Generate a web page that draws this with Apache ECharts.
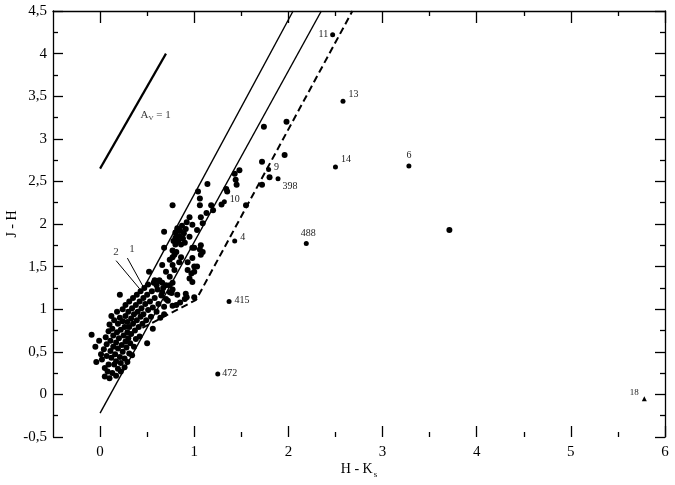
<!DOCTYPE html>
<html>
<head>
<meta charset="utf-8">
<script src="https://cdn.jsdelivr.net/npm/echarts@6/dist/echarts.min.js"></script>
<style>html,body{margin:0;padding:0;background:#fff}#c{width:675px;height:485px}</style>
</head>
<body>
<div id="c"></div>
<script>
// ---- data (H-Ks, J-H) ----
const xTickValues = [0, 1, 2, 3, 4, 5, 6];
const xMinorTickValues = [0.5, 1.5, 2.5, 3.5, 4.5, 5.5];

const lowerCluster = [
[-0.09,0.70],[-0.05,0.56],[-0.04,0.38],[-0.01,0.63],[0.01,0.47],[0.02,0.41],[0.04,0.53],[0.05,0.31],[0.05,0.21],[0.06,0.67],
[0.07,0.59],[0.08,0.27],[0.07,0.45],[0.09,0.35],[0.09,0.74],[0.11,0.51],[0.10,0.19],[0.11,0.63],[0.10,0.82],[0.13,0.25],
[0.12,0.43],[0.12,0.92],[0.14,0.56],[0.14,0.69],[0.15,0.35],[0.13,0.77],[0.16,0.47],[0.15,0.87],[0.17,0.22],[0.17,0.61],
[0.18,0.73],[0.17,0.39],[0.18,0.97],[0.19,0.30],[0.19,0.54],[0.19,0.83],[0.20,0.66],[0.21,0.90],[0.21,0.44],[0.22,0.76],
[0.22,0.27],[0.22,0.37],[0.23,0.58],[0.21,1.17],[0.24,0.86],[0.24,0.50],[0.25,0.69],[0.24,1.00],[0.26,0.32],[0.26,0.79],
[0.26,0.42],[0.27,0.62],[0.27,0.92],[0.27,1.05],[0.28,0.55],[0.29,0.73],[0.29,0.85],[0.29,0.38],[0.30,0.66],[0.30,0.97],
[0.31,0.48],[0.31,0.79],[0.31,1.09],[0.32,0.60],[0.33,0.89],[0.33,0.71],[0.34,1.01],[0.34,0.46],[0.35,0.83],[0.35,1.13],
[0.36,0.94],[0.36,0.56],[0.37,0.75],[0.38,1.05],[0.38,0.65],[0.39,0.87],[0.39,1.17],[0.40,0.97],[0.41,0.79],[0.42,1.09],
[0.42,0.68],[0.43,0.91],[0.43,1.21],[0.44,1.01],[0.45,0.83],[0.46,1.13],[0.46,0.94],[0.47,1.25],[0.48,1.06],[0.49,0.87],
[0.50,1.17],[0.51,0.99],[0.51,1.29],[0.50,0.60],[0.53,1.09],[0.54,0.91],[0.55,1.21],[0.56,1.02],[0.57,1.31],[0.56,0.77],
[0.58,1.13],[0.60,0.97],[0.61,1.23],[0.62,1.06],[0.63,1.33],[0.64,0.90],[0.65,1.16],[0.67,1.25],[0.68,1.03],[0.68,0.94],
[0.70,1.12],[0.72,1.10],[0.74,1.20],[0.77,1.04],[0.81,1.05],[0.82,1.17],[0.85,1.08],[0.90,1.12],[0.91,1.18],[1.00,1.14]
];

const middleCluster = [
[0.52,1.44],[0.58,1.34],[0.60,1.28],[0.63,1.34],[0.66,1.52],[0.66,1.31],[0.66,1.20],[0.68,1.72],[0.70,1.44],[0.70,1.28],
[0.74,1.58],[0.74,1.38],[0.74,1.28],[0.76,1.19],[0.77,1.61],[0.77,1.52],[0.77,1.31],[0.77,1.23],[0.77,1.69],[0.79,1.46],
[0.79,1.64],[0.81,1.67],[0.84,1.55],[0.86,1.61],[0.92,1.14],[0.93,1.46],[0.93,1.55],[0.95,1.36],[0.97,1.42],[0.98,1.60],
[0.98,1.32],[0.98,1.72],[1.00,1.50],[1.00,1.44],[1.00,1.72],[1.03,1.50],[1.06,1.70],[1.07,1.64],[1.07,1.75],[1.09,1.67],
[0.78,1.80],[0.80,1.76],[0.80,1.84],[0.80,1.90],[0.82,1.95],[0.83,1.80],[0.84,1.86],[0.85,1.92],[0.86,1.76],[0.87,1.98],
[0.88,1.83],[0.89,1.89],[0.90,1.78],[0.91,1.94],[0.95,1.85],[0.92,2.02],[0.95,2.08],[0.98,1.99],[1.03,1.93],[1.07,2.08],
[1.09,2.01],[1.13,2.13],[1.20,2.16],[1.06,2.22],[1.18,2.22],[1.06,2.30],[0.77,2.22],[0.68,1.91],[1.29,2.23],
[1.04,2.38],[1.35,2.38],[1.14,2.47],[1.45,2.46]
];

const upperCluster = [
[1.74,3.14],[1.98,3.20],[1.96,2.81],[1.72,2.73],[1.80,2.55],[1.72,2.46],[1.48,2.63],[1.43,2.59],[1.44,2.52],[1.34,2.41],
[1.55,2.22],[3.71,1.93]
];

const labelNames = ['11','13','14','6','9','398','10','4','488','415','472'];
const labelX     = [2.47, 2.58, 2.50, 3.28, 1.79, 1.89, 1.32, 1.43, 2.19, 1.37, 1.25];
const labelY     = [4.22, 3.44, 2.67, 2.68, 2.64, 2.53, 2.26, 1.80, 1.77, 1.09, 0.24];

const triangleName = ['18'];
const triangleX = [5.78];
const triangleY = [-0.05];

// lines
const reddeningVector = [[0.00,2.65],[0.70,4.00]];
const bandLeft  = [[0.45,1.22],[2.05,4.50]];
const bandRight = [[0.00,-0.22],[2.35,4.50]];
const cttsLocus = [[0.45,0.78],[1.02,1.11],[2.68,4.50]];
const pointer2  = [[0.17,1.57],[0.42,1.24]];
const pointer1  = [[0.29,1.60],[0.46,1.26]];

// text annotations
const annotText = ['Av', '2', '1'];
const annotX = [0.59, 0.17, 0.34];
const annotY = [3.28, 1.67, 1.70];

// ---- chart ----
const FONT = 'Liberation Serif';
const chart = echarts.init(document.getElementById('c'), null, {renderer: 'canvas'});

const labelStyle = {
  '11':  {position: 'left', distance: 2, offset: [0, 0]},
  '13':  {position: 'right', distance: 3, offset: [0, -7]},
  '14':  {position: 'right', distance: 3, offset: [0, -8]},
  '6':   {position: 'top', distance: 3, offset: [0, 0]},
  '9':   {position: 'right', distance: 3, offset: [0, -2]},
  '398': {position: 'right', distance: 2, offset: [0, 8]},
  '10':  {position: 'right', distance: 3, offset: [0, -2]},
  '4':   {position: 'right', distance: 3, offset: [0, -4]},
  '488': {position: 'top', distance: 3, offset: [2, 0]},
  '415': {position: 'right', distance: 3, offset: [0, -1]},
  '472': {position: 'right', distance: 2, offset: [0, -1]},
  '18':  {position: 'left', distance: 3, offset: [0, -6]}
};

function labelled(names, xs, ys) {
  return names.map((n, i) => ({
    value: [xs[i], ys[i]],
    name: n,
    label: Object.assign({show: true, formatter: n}, labelStyle[n])
  }));
}

const lineSeries = (data, width, type) => ({
  type: 'line', data: data, symbol: 'none', showSymbol: false,
  lineStyle: {color: '#000', width: width, type: type || 'solid'},
  silent: true, z: 3
});

const dotSeries = (data) => ({
  type: 'scatter', data: data, symbol: 'circle', symbolSize: 6,
  itemStyle: {color: '#000', opacity: 1}, silent: true, z: 4
});

const yFmt = v => String(v).replace('.', ',');

const option = {
  animation: false,
  backgroundColor: '#fff',
  grid: [
    {left: 53, right: 10, top: 11, bottom: 48, outerBoundsMode: 'none', containLabel: false},
    {left: 53, right: 10, top: 11, bottom: 48, outerBoundsMode: 'none', containLabel: false}
  ],
  xAxis: [
    {
      gridIndex: 0, type: 'value', position: 'bottom', min: -0.5, max: 6,
      axisLine: {show: false, onZero: false},
      axisTick: {show: true, inside: true, length: 11, customValues: xTickValues, lineStyle: {color: '#000', width: 1.3}},
      axisLabel: {customValues: xTickValues, margin: 8, fontFamily: FONT, fontSize: 15, color: '#000'},
      splitLine: {show: false},
      name: '{a|H - K}{s|s}', nameLocation: 'middle', nameGap: 23, nameMoveOverlap: false,
      nameTextStyle: {fontFamily: FONT, color: '#000',
        rich: {a: {fontFamily: FONT, fontSize: 14, color: '#000'}, s: {fontFamily: FONT, fontSize: 9, color: '#000', verticalAlign: 'bottom', padding: [10, 0, 0, 1]}}}
    },
    {
      gridIndex: 0, type: 'value', position: 'top', min: -0.5, max: 6,
      axisLine: {show: true, onZero: false, lineStyle: {color: '#000', width: 1.3}},
      axisTick: {show: true, inside: true, length: 12, customValues: xTickValues, lineStyle: {color: '#000', width: 1.3}},
      axisLabel: {show: false}, splitLine: {show: false}
    },
    {
      gridIndex: 1, type: 'value', position: 'bottom', min: -0.5, max: 6,
      axisLine: {show: false, onZero: false},
      axisTick: {show: true, inside: true, length: 5, customValues: xMinorTickValues, lineStyle: {color: '#000', width: 1.3}},
      axisLabel: {show: false}, splitLine: {show: false}
    },
    {
      gridIndex: 1, type: 'value', position: 'top', min: -0.5, max: 6,
      axisLine: {show: false, onZero: false},
      axisTick: {show: true, inside: true, length: 5, customValues: xMinorTickValues, lineStyle: {color: '#000', width: 1.3}},
      axisLabel: {show: false}, splitLine: {show: false}
    }
  ],
  yAxis: [
    {
      gridIndex: 0, type: 'value', position: 'left', min: -0.5, max: 4.5, interval: 0.5,
      axisLine: {show: true, onZero: false, lineStyle: {color: '#000', width: 1.3}},
      axisTick: {show: true, inside: true, length: 10, lineStyle: {color: '#000', width: 1.3}},
      minorTick: {show: true, splitNumber: 2, length: 5, lineStyle: {color: '#000', width: 1.3}},
      axisLabel: {formatter: yFmt, margin: 6, fontFamily: FONT, fontSize: 15, color: '#000', showMinLabel: true, showMaxLabel: true},
      splitLine: {show: false},
      name: 'J - H', nameLocation: 'middle', nameGap: 34, nameRotate: 90, nameMoveOverlap: false,
      nameTextStyle: {fontFamily: FONT, fontSize: 14, color: '#000'}
    },
    {
      gridIndex: 0, type: 'value', position: 'right', min: -0.5, max: 4.5, interval: 0.5,
      axisLine: {show: true, onZero: false, lineStyle: {color: '#000', width: 1.3}},
      axisTick: {show: true, inside: true, length: 10, lineStyle: {color: '#000', width: 1.3}},
      minorTick: {show: true, splitNumber: 2, length: 5, lineStyle: {color: '#000', width: 1.3}},
      axisLabel: {show: false}, splitLine: {show: false}
    },
    {gridIndex: 1, type: 'value', show: false, min: -0.5, max: 4.5}
  ],
  series: [
    lineSeries(reddeningVector, 2.2),
    lineSeries(bandLeft, 1.4),
    lineSeries(bandRight, 1.4),
    lineSeries(cttsLocus, 2, [7, 4]),
    lineSeries(pointer2, 1),
    lineSeries(pointer1, 1),
    dotSeries(lowerCluster),
    dotSeries(middleCluster),
    dotSeries(upperCluster),
    {
      type: 'scatter', symbol: 'circle', symbolSize: 5, itemStyle: {color: '#000', opacity: 1}, silent: true, z: 5,
      data: labelled(labelNames, labelX, labelY),
      label: {fontFamily: FONT, fontSize: 10, color: '#222'}
    },
    {
      type: 'scatter', symbol: 'triangle', symbolSize: 5, itemStyle: {color: '#000', opacity: 1}, silent: true, z: 5,
      data: labelled(triangleName, triangleX, triangleY),
      label: {fontFamily: FONT, fontSize: 9, color: '#222'}
    },
    {
      type: 'scatter', symbolSize: 0, silent: true, z: 6,
      data: annotText.map((t, i) => ({value: [annotX[i], annotY[i]], name: t})),
      label: {
        show: true, position: 'inside', fontFamily: FONT, fontSize: 11, color: '#000',
        formatter: p => p.name === 'Av' ? '{a|A}{s|V}{a| = 1}' : p.name,
        rich: {a: {fontFamily: FONT, fontSize: 11, color: '#000'}, s: {fontFamily: FONT, fontSize: 7, color: '#000', verticalAlign: 'bottom', padding: [6, 0, 0, 0]}}
      }
    }
  ]
};
chart.setOption(option);
</script>
</body>
</html>
